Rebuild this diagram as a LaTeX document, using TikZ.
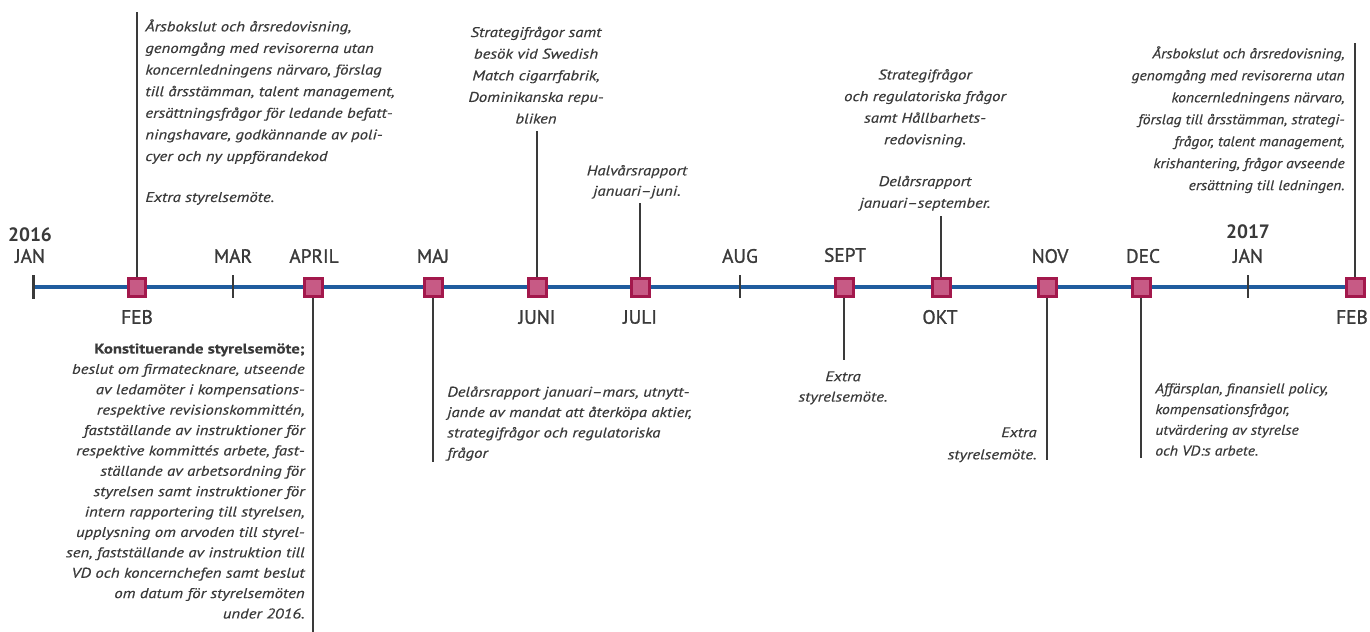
\documentclass[tikz,border=0pt]{standalone}
\usepackage{fontspec}
\setmainfont{PT Sans}
\newfontfamily\notefont[FakeStretch=1.19, FakeBold=0.4]{PT Sans}
\newfontfamily\notefontb[FakeStretch=1.11, FakeBold=0.4]{PT Sans}
\newfontfamily\monthfont[FakeBold=1.2]{PT Sans}
\usetikzlibrary{positioning}
\definecolor{axisblue}{HTML}{1F5C9E}
\definecolor{markfill}{HTML}{C75A85}
\definecolor{markedge}{HTML}{A3184C}
\definecolor{inkgray}{HTML}{3A3A3A}
\tikzset{
  marker/.style={draw=markedge, fill=markfill, line width=0.6mm, minimum size=3.6mm, inner sep=0pt},
  month/.style={font=\monthfont\fontsize{11}{12}\selectfont, text=inkgray, inner sep=0pt},
  year/.style={font=\fontsize{11}{12}\selectfont\bfseries, text=inkgray, inner sep=0pt},
  note/.style={font=\notefont\fontsize{8}{11.6}\selectfont\itshape, text=inkgray, inner sep=0pt},
  widenote/.style={font=\notefont\fontsize{8}{12.3}\selectfont\itshape, text=inkgray, inner sep=0pt},
  narrownote/.style={font=\notefontb\fontsize{8}{#1}\selectfont\itshape, text=inkgray, inner sep=0pt},
  stem/.style={draw=inkgray, line width=0.4mm},
  tick/.style={draw=inkgray, line width=0.4mm}
}

\begin{document}
\begin{tikzpicture}[x=0.02cm, y=-0.02cm]
  \useasboundingbox (0,0) rectangle (1370,632);

  % axis and ticks
  \coordinate (start) at (33,287);
  \coordinate (end) at (1362,287);
  \draw[axisblue, line width=0.7mm] (start) -- (end);
  \draw[tick, line width=0.6mm] (33,275) -- (33,299);
  \foreach \x in {233, 740, 1248}
    \draw[tick] (\x,275) -- (\x,298);

  % meetings
  \node[marker] (feb)   at (137,287) {};
  \node[marker] (april) at (313,287) {};
  \node[marker] (maj)   at (433,287) {};
  \node[marker] (juni)  at (537,287) {};
  \node[marker] (juli)  at (640,287) {};
  \node[marker] (sept)  at (844,287) {};
  \node[marker] (okt)   at (941,287) {};
  \node[marker] (nov)   at (1047,287) {};
  \node[marker] (dec)   at (1141,287) {};
  \node[marker] (febb)  at (1355,287) {};

  % month names
  \node[year] at (30,235) {2016};
  \node[month] at (30,256) {JAN};
  \node[month] at (233,256) {MAR};
  \node[month] at (314,256) {APRIL};
  \node[month] at (433,256) {MAJ};
  \node[month] at (740,256) {AUG};
  \node[month] at (845,255) {SEPT};
  \node[month] at (1050,256) {NOV};
  \node[month] at (1143,256) {DEC};
  \node[year] at (1248,232) {2017};
  \node[month] at (1248,256) {JAN};
  \node[month] at (137,317) {FEB};
  \node[month] at (537,317) {JUNI};
  \node[month] at (640,317) {JULI};
  \node[month] at (940,317) {OKT};
  \node[month] at (1352,317) {FEB};

  % notes above
  \node[widenote, anchor=north west, align=left] (febnote) at (145,19)
    {Årsbokslut och årsredovisning,\\
     genomgång med revisorerna utan\\
     koncernledningens närvaro, förslag\\
     till årsstämman, talent management,\\
     ersättningsfrågor för ledande befatt-\\
     ningshavare, godkännande av poli-\\
     cyer och ny uppförandekod\\[11pt]
     Extra styrelsemöte.};
  \node[widenote, anchor=south, align=center] (juninote) at (536,124)
    {Strategifrågor samt\\
     besök vid Swedish\\
     Match cigarrfabrik,\\
     Dominikanska repu-\\
     bliken};
  \node[note, anchor=south, align=center] (julinote) at (637,199)
    {Halvårsrapport\\
     januari–juni.};
  \node[widenote, anchor=south, align=center] (oktnote) at (925,211)
    {Strategifrågor\\
     och regulatoriska frågor\\
     samt Hållbarhets-\\
     redovisning.\\[11.5pt]
     Delårsrapport\\
     januari–september.};
  \node[narrownote=12.5pt, anchor=north east, align=right] (febbnote) at (1345,46)
    {Årsbokslut och årsredovisning,\\
     genomgång med revisorerna utan\\
     koncernledningens närvaro,\\
     förslag till årsstämman, strategi-\\
     frågor, talent management,\\
     krishantering, frågor avseende\\
     ersättning till ledningen.};

  % notes below
  \node[note, anchor=north east, align=right] (aprilnote) at (305,343)
    {{\upshape\bfseries Konstituerande styrelsemöte;}\\
     beslut om firmatecknare, utseende\\
     av ledamöter i kompensations-\\
     respektive revisionskommittén,\\
     fastställande av instruktioner för\\
     respektive kommittés arbete, fast-\\
     ställande av arbetsordning för\\
     styrelsen samt instruktioner för\\
     intern rapportering till styrelsen,\\
     upplysning om arvoden till styrel-\\
     sen, fastställande av instruktion till\\
     VD och koncernchefen samt beslut\\
     om datum för styrelsemöten\\
     under 2016.};
  \node[note, anchor=north west, align=left] (majnote) at (447,386)
    {Delårsrapport januari–mars, utnytt-\\
     jande av mandat att återköpa aktier,\\
     strategifrågor och regulatoriska\\
     frågor};
  \node[note, anchor=north, align=center] (septnote) at (843,371)
    {Extra\\
     styrelsemöte.};
  \node[note, font=\notefont\fontsize{8}{12.6}\selectfont\itshape, anchor=north east, align=right] (novnote) at (1037,427)
    {Extra\\
     styrelsemöte.};
  \node[narrownote=11.8pt, anchor=north west, align=left] (decnote) at (1155,383)
    {Affärsplan, finansiell policy,\\
     kompensationsfrågor,\\
     utvärdering av styrelse\\
     och VD:s arbete.};

  % stems
  \coordinate (febend) at (137,12);
  \coordinate (aprilend) at (313,632);
  \coordinate (majend) at (433,462);
  \coordinate (junitop) at (537,131);
  \coordinate (julitop) at (640,203);
  \coordinate (septend) at (844,360);
  \coordinate (okttop) at (941,216);
  \coordinate (novend) at (1047,460);
  \coordinate (decend) at (1141,458);
  \coordinate (febbend) at (1355,43);
  \draw[stem] (feb.north) -- (febend);
  \draw[stem] (april.south) -- (aprilend);
  \draw[stem] (maj.south) -- (majend);
  \draw[stem] (juni.north) -- (junitop);
  \draw[stem] (juli.north) -- (julitop);
  \draw[stem] (sept.south) -- (septend);
  \draw[stem] (okt.north) -- (okttop);
  \draw[stem] (nov.south) -- (novend);
  \draw[stem] (dec.south) -- (decend);
  \draw[stem] (febb.north) -- (febbend);
\end{tikzpicture}
\end{document}
